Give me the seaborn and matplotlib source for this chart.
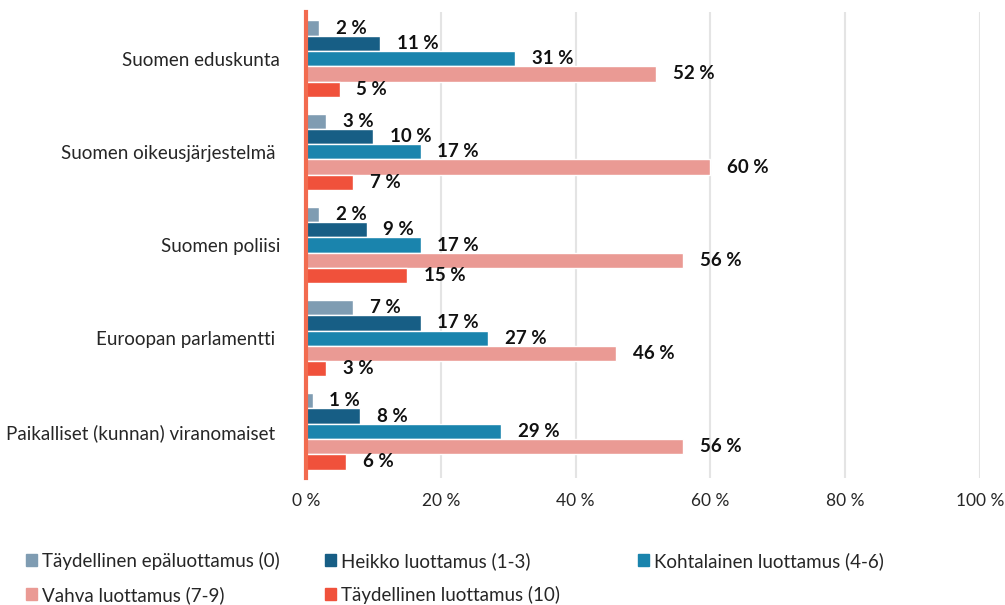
import pandas as pd
import matplotlib.pyplot as plt
import seaborn as sns

# Luottamus instituutioihin, osuudet (%)
institutions = [
    "Suomen eduskunta",
    "Suomen oikeusjärjestelmä ",
    "Suomen poliisi",
    "Euroopan parlamentti ",
    "Paikalliset (kunnan) viranomaiset ",
]
levels = [
    "Täydellinen epäluottamus (0)",
    "Heikko luottamus (1-3)",
    "Kohtalainen luottamus (4-6)",
    "Vahva luottamus (7-9)",
    "Täydellinen luottamus (10)",
]
full_distrust = [2, 3, 2, 7, 1]
weak_trust = [11, 10, 9, 17, 8]
moderate_trust = [31, 17, 17, 27, 29]
strong_trust = [52, 60, 56, 46, 56]
full_trust = [5, 7, 15, 3, 6]

colors = ["#7f9cb2", "#175e85", "#1a84ad", "#ea9a94", "#f0513b"]

series = [full_distrust, weak_trust, moderate_trust, strong_trust, full_trust]
rows = []
for level, vals in zip(levels, series):
    for inst, v in zip(institutions, vals):
        rows.append({"Instituutio": inst, "Taso": level, "Osuus": v})
df = pd.DataFrame(rows)

sns.set_style("white")
plt.rcParams["font.family"] = ["Lato", "DejaVu Sans"]

fig = plt.figure(figsize=(10.05, 6.05), dpi=100)
ax = fig.add_axes([0.3045, 0.21, 0.6705, 0.77])

sns.barplot(
    data=df, y="Instituutio", x="Osuus", hue="Taso",
    order=institutions, hue_order=levels, palette=colors,
    orient="h", width=0.82, saturation=1, ax=ax, legend=False,
)

for cont in ax.containers:
    ax.bar_label(cont, labels=[f"{int(v)} %" for v in cont.datavalues],
                 padding=12, fontsize=13.5, fontweight="bold", color="#111111")

ax.set_xlim(0, 100)
ax.set_xticks([0, 20, 40, 60, 80, 100])
ax.set_xticklabels([f"{t} %" for t in [0, 20, 40, 60, 80, 100]], fontsize=12.5)
ax.tick_params(axis="y", labelsize=13.5, pad=18.5, length=0)
ax.tick_params(axis="x", pad=11, length=0)
ax.set_xlabel("")
ax.set_ylabel("")
ax.xaxis.grid(True, color="#e4e4e4", linewidth=1.5)
ax.set_axisbelow(True)
for s in ["top", "right", "bottom"]:
    ax.spines[s].set_visible(False)
ax.spines["left"].set_color("#f26b4f")
ax.spines["left"].set_linewidth(3)
ax.spines["left"].set_zorder(5)

# legend in three fixed columns, filled row by row
handles = [plt.Rectangle((0, 0), 1, 1, color=c) for c in colors]
columns = [([0, 3], 0.026), ([1, 4], 0.323), ([2], 0.635)]
for idx, x0 in columns:
    fig.legend(
        [handles[i] for i in idx], [levels[i] for i in idx],
        loc="upper left", bbox_to_anchor=(x0, 0.088), borderaxespad=0,
        borderpad=0, frameon=False, fontsize=13.5, handlelength=0.6,
        handleheight=0.6, handletextpad=0.25, labelspacing=0.85,
    )

fig.savefig("out.png", dpi=100)
